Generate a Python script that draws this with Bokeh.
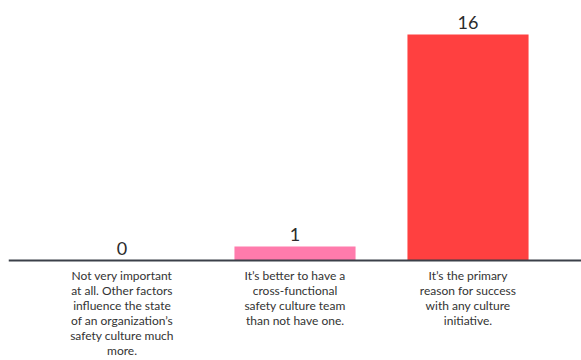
from bokeh.plotting import figure
from bokeh.models import ColumnDataSource, FactorRange, Range1d, Span
from bokeh.core.properties import value
from bokeh.embed import file_html
from bokeh.resources import INLINE

categories = ["not_important", "better_team", "primary_reason"]
counts = [0, 1, 16]
colors = ["#FF7BAC", "#FF7BAC", "#FF4040"]
category_labels = [
    "Not very important\nat all. Other factors\ninfluence the state\nof an organization\u2019s\nsafety culture much\nmore.",
    "It\u2019s better to have a\ncross-functional\nsafety culture team\nthan not have one.",
    "It\u2019s the primary\nreason for success\nwith any culture\ninitiative.",
]

src = ColumnDataSource(dict(
    cat=categories,
    count=counts,
    color=colors,
    count_text=[str(c) for c in counts],
    label=category_labels,
    zero=[0] * len(counts),
))

p = figure(
    width=581, height=360,
    x_range=FactorRange(*categories, range_padding=0.156, range_padding_units="absolute"),
    y_range=Range1d(-7.08, 18.41),
    output_backend="svg", toolbar_location=None,
    min_border=0, min_border_left=8, outline_line_color=None,
)
p.axis.visible = False
p.grid.visible = False
p.background_fill_color = "white"
p.border_fill_color = "white"

p.vbar(x="cat", top="count", bottom=0, width=0.7, source=src,
       fill_color="color", line_color=None)

p.add_layout(Span(location=0, dimension="width", line_color="#3B4049", line_width=2))

p.text(x="cat", y="count", text="count_text", source=src,
       text_align="center", text_baseline="alphabetic", y_offset=-12,
       text_font=value("Lato"), text_font_size="18px", text_color="#2b2b2b")

p.text(x="cat", y="zero", text="label", source=src,
       text_align="center", text_baseline="top", y_offset=7,
       text_font=value("Lato"), text_font_size="12px", text_color="#333333",
       text_line_height=1.0)

open("out.html", "w").write(file_html(p, INLINE))
